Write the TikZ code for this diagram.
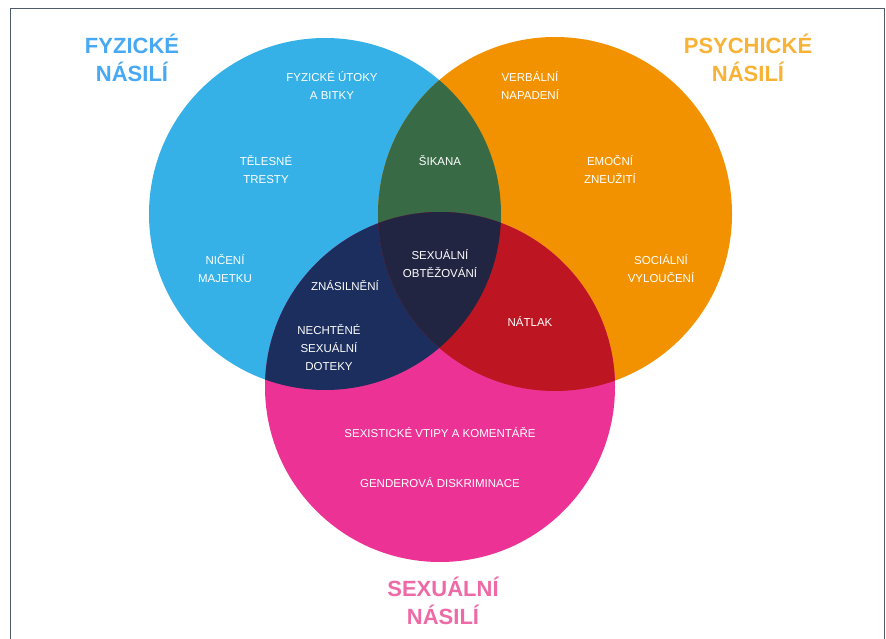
\documentclass[tikz,border=0pt]{standalone}
\usepackage{fontspec}
\setmainfont{Liberation Sans}
\definecolor{fyzblue}{HTML}{35B1E7}
\definecolor{psyorange}{HTML}{F29200}
\definecolor{sexpink}{HTML}{EC3395}
\definecolor{fpgreen}{HTML}{376A45}
\definecolor{fsnavy}{HTML}{1B2E5D}
\definecolor{psred}{HTML}{BD1622}
\definecolor{allnavy}{HTML}{222541}
\definecolor{fyztitle}{HTML}{48A9F2}
\definecolor{psytitle}{HTML}{F8B236}
\definecolor{sextitle}{HTML}{ED6AA7}
\definecolor{framegray}{HTML}{4F5B6B}

\begin{document}
\begin{tikzpicture}[
		x=1pt, y=-1pt,
		every node/.style={align=center, text=white, font=\fontsize{11.5}{18}\selectfont},
		title/.style={font=\fontsize{22}{28}\selectfont\bfseries}
	]
  \useasboundingbox (0,0) rectangle (886,639);
  \draw[framegray, line width=0.8pt] (10,8) rectangle (884,660);
  \coordinate (fyz_c) at (325,214);
  \coordinate (psy_c) at (555,214);
  \coordinate (sex_c) at (440,387);
  \fill[fyzblue] (fyz_c) circle (176pt);
  \fill[psyorange] (psy_c) circle (177pt);
  \fill[sexpink] (sex_c) circle (175pt);
  \begin{scope}
    \clip (fyz_c) circle (176pt);
    \fill[fpgreen] (psy_c) circle (177pt);
    \fill[fsnavy] (sex_c) circle (175pt);
  \end{scope}
  \begin{scope}
    \clip (psy_c) circle (177pt);
    \fill[psred] (sex_c) circle (175pt);
  \end{scope}
  \begin{scope}
    \clip (fyz_c) circle (176pt);
    \clip (psy_c) circle (177pt);
    \fill[allnavy] (sex_c) circle (175pt);
  \end{scope}
  \node (fyz_title) [title, text=fyztitle] at (132,58) {FYZICKÉ\\NÁSILÍ};
  \node (psy_title) [title, text=psytitle] at (748,58) {PSYCHICKÉ\\NÁSILÍ};
  \node (sex_title) [title, text=sextitle] at (443,601) {SEXUÁLNÍ\\NÁSILÍ};
  \node (utoky) at (332,86) {FYZICKÉ ÚTOKY\\A BITKY};
  \node (tresty) at (266,170) {TĚLESNÉ\\TRESTY};
  \node (majetek) at (225,269) {NIČENÍ\\MAJETKU};
  \node (sikana) at (440,161) {ŠIKANA};
  \node (verbalni) at (530,86) {VERBÁLNÍ\\NAPADENÍ};
  \node (emocni) at (610,170) {EMOČNÍ\\ZNEUŽITÍ};
  \node (socialni) at (661,269) {SOCIÁLNÍ\\VYLOUČENÍ};
  \node (obtezovani) at (440,264) {SEXUÁLNÍ\\OBTĚŽOVÁNÍ};
  \node (znasilneni) at (345,286) {ZNÁSILNĚNÍ};
  \node (doteky) at (329,348) {NECHTĚNÉ\\SEXUÁLNÍ\\DOTEKY};
  \node (natlak) at (530,322) {NÁTLAK};
  \node (vtipy) at (440,433) {SEXISTICKÉ VTIPY A KOMENTÁŘE};
  \node (diskriminace) at (440,483) {GENDEROVÁ DISKRIMINACE};
\end{tikzpicture}
\end{document}
